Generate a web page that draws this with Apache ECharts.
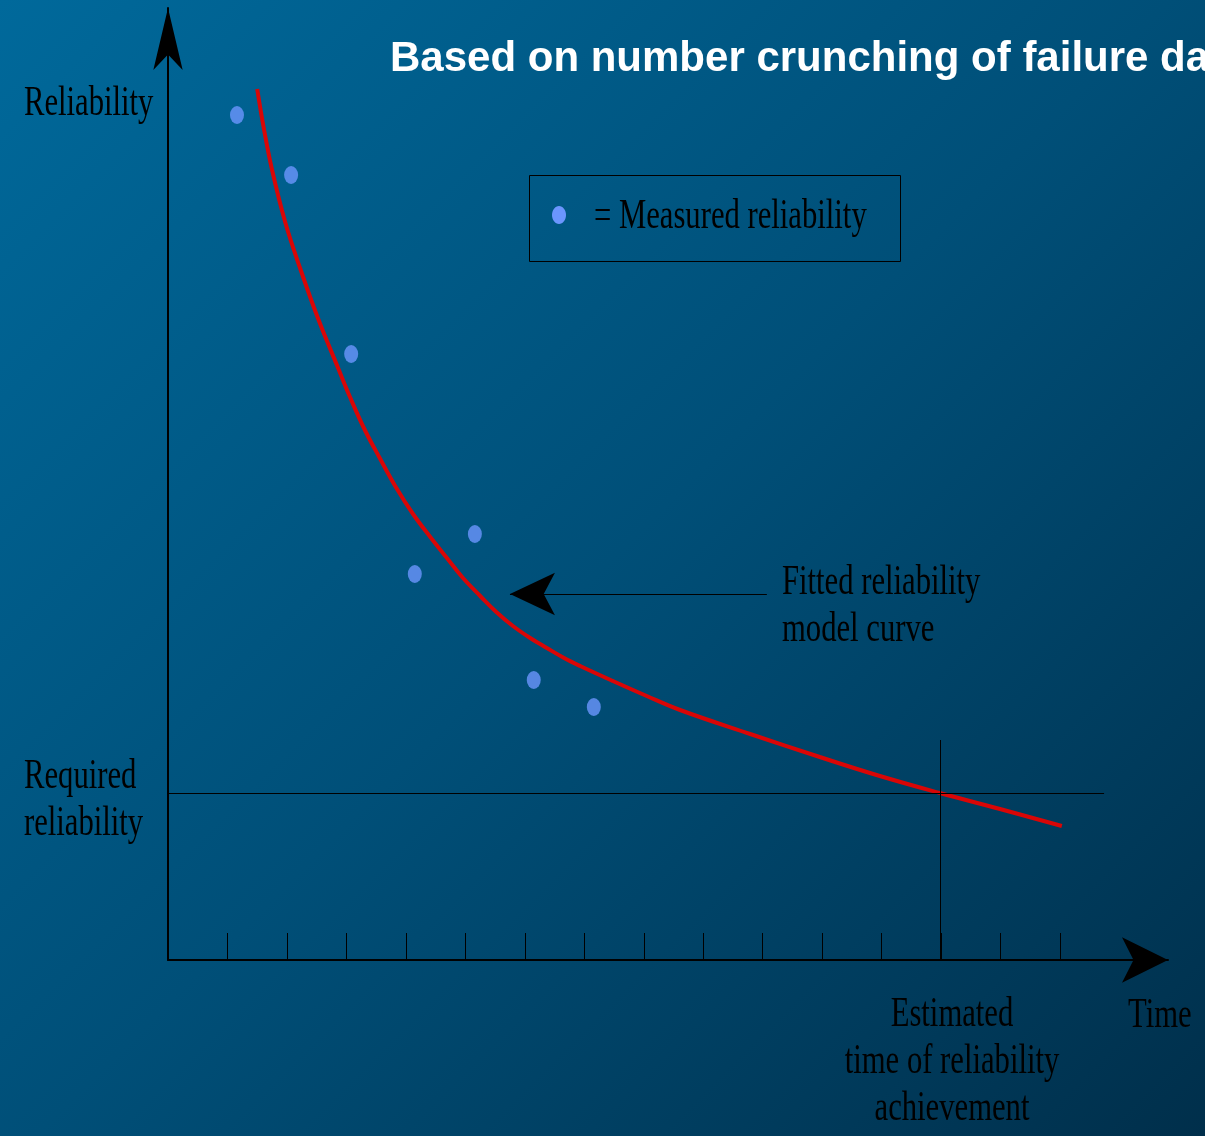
<!DOCTYPE html>
<html>
<head>
<meta charset="utf-8">
<script src="https://cdn.jsdelivr.net/npm/echarts@6/dist/echarts.min.js"></script>
<style>
  html, body { margin: 0; padding: 0; }
  body { background: linear-gradient(135deg, #00699b 0%, #004f78 50%, #002f4b 100%); }
  #chart { width: 1205px; height: 1136px; }
</style>
</head>
<body>
<div id="chart"></div>
<script>
// measured reliability (time, reliability)
var pointTimes = [1.16, 2.07, 3.08, 4.15, 5.16, 6.15, 7.16];
var pointValues = [84.5, 78.5, 60.6, 38.6, 42.6, 28.0, 25.3];

// fitted model curve
var curveTimes = [1.50, 1.61, 1.75, 1.97, 2.22, 2.52, 2.86, 3.06, 3.31, 3.56, 3.83, 4.12, 4.41, 4.69, 4.96, 5.25,
    5.52, 5.80, 6.09, 6.37, 6.66, 6.93, 7.48, 8.05, 8.61, 9.79, 10.96, 11.97, 12.98, 13.99, 15.03];
var curveValues = [87.1, 83.2, 79.0, 73.8, 69.2, 64.2, 59.2, 56.3, 53.0, 50.2, 47.3, 44.6, 42.3, 40.2, 38.2, 36.4,
    34.8, 33.4, 32.2, 31.2, 30.2, 29.4, 27.9, 26.4, 25.0, 22.6, 20.3, 18.4, 16.7, 15.1, 13.4];

var tickValues = [1, 2, 3, 4, 5, 6, 7, 8, 9, 10, 11, 12, 13, 14, 15];
var requiredReliability = 16.7;
var estimatedTime = 12.98;

var dotColor = "#6b96fe";
var serif = '"Liberation Serif", "Times New Roman", serif';
var squeeze = 0.73; // the slide text is a condensed Times

function label(text, x, y, align) {
    return {
        type: "text",
        x: x,
        y: y,
        scaleX: squeeze,
        silent: true,
        style: {
            text: text,
            fill: "#000",
            fontSize: 42,
            fontFamily: serif,
            lineHeight: 47,
            align: align || "left",
            verticalAlign: "middle",
        },
    };
}

var chart = echarts.init(document.getElementById("chart"));

chart.setOption({
    backgroundColor: "transparent",
    animation: false,
    title: {
        text: "Based on number crunching of failure data",
        left: 390,
        top: 38,
        padding: 0,
        textStyle: {
            color: "#fff",
            fontSize: 42,
            lineHeight: 42,
            fontWeight: "bold",
            fontFamily: '"Liberation Sans", Arial, sans-serif',
        },
    },
    grid: { left: 168, right: 37, top: 8, bottom: 176 },
    xAxis: {
        type: "value",
        min: 0,
        max: 16.815,
        axisLine: {
            lineStyle: { color: "#000", width: 2 },
            symbol: ["none", "arrow"],
            symbolSize: [34, 46],
        },
        axisTick: {
            show: true,
            inside: true,
            length: 27,
            customValues: tickValues,
            lineStyle: { color: "#000", width: 1 },
        },
        axisLabel: { show: false },
        splitLine: { show: false },
    },
    yAxis: {
        type: "value",
        min: 0,
        max: 95.2,
        axisLine: {
            show: true,
            lineStyle: { color: "#000", width: 2 },
            symbol: ["none", "arrow"],
            symbolSize: [22, 62],
        },
        axisTick: { show: false },
        axisLabel: { show: false },
        splitLine: { show: false },
    },
    series: [
        {
            //参考线和指示箭头
            type: "line",
            data: [],
            silent: true,
            markLine: {
                silent: true,
                label: { show: false },
                lineStyle: { color: "#000", width: 1, type: "solid" },
                data: [
                    [
                        { coord: [0, requiredReliability], symbol: "none" },
                        { coord: [15.74, requiredReliability], symbol: "none" },
                    ],
                    [
                        { coord: [estimatedTime, 0], symbol: "none" },
                        { coord: [estimatedTime, 22.0], symbol: "none" },
                    ],
                    [
                        { coord: [10.07, 36.6], symbol: "none" },
                        { coord: [5.75, 36.6], symbol: "arrow", symbolSize: [32, 45] },
                    ],
                ],
            },
        },
        {
            name: "Fitted reliability model curve",
            type: "line",
            smooth: 0.4,
            showSymbol: false,
            lineStyle: { color: "#d90606", width: 4 },
            data: curveTimes.map(function (t, i) { return [t, curveValues[i]]; }),
            z: 3,
        },
        {
            name: "Measured reliability",
            type: "scatter",
            symbol: "circle",
            symbolSize: [14, 18],
            itemStyle: { color: dotColor },
            data: pointTimes.map(function (t, i) { return [t, pointValues[i]]; }),
            z: 4,
        },
    ],
    graphic: [
        {
            type: "rect",
            silent: true,
            shape: { x: 529.5, y: 175.5, width: 371, height: 86 },
            style: { fill: "none", stroke: "#000", lineWidth: 1 },
        },
        {
            type: "ellipse",
            silent: true,
            shape: { cx: 559, cy: 215, rx: 7, ry: 9 },
            style: { fill: dotColor },
        },
        label("= Measured reliability", 594, 217),
        label("Reliability", 24, 104),
        label("Required\nreliability", 24, 800),
        label("Fitted reliability\nmodel curve", 782, 606),
        label("Time", 1128, 1016),
        label("Estimated\ntime of reliability\nachievement", 952, 1062, "center"),
    ],
});
</script>
</body>
</html>
